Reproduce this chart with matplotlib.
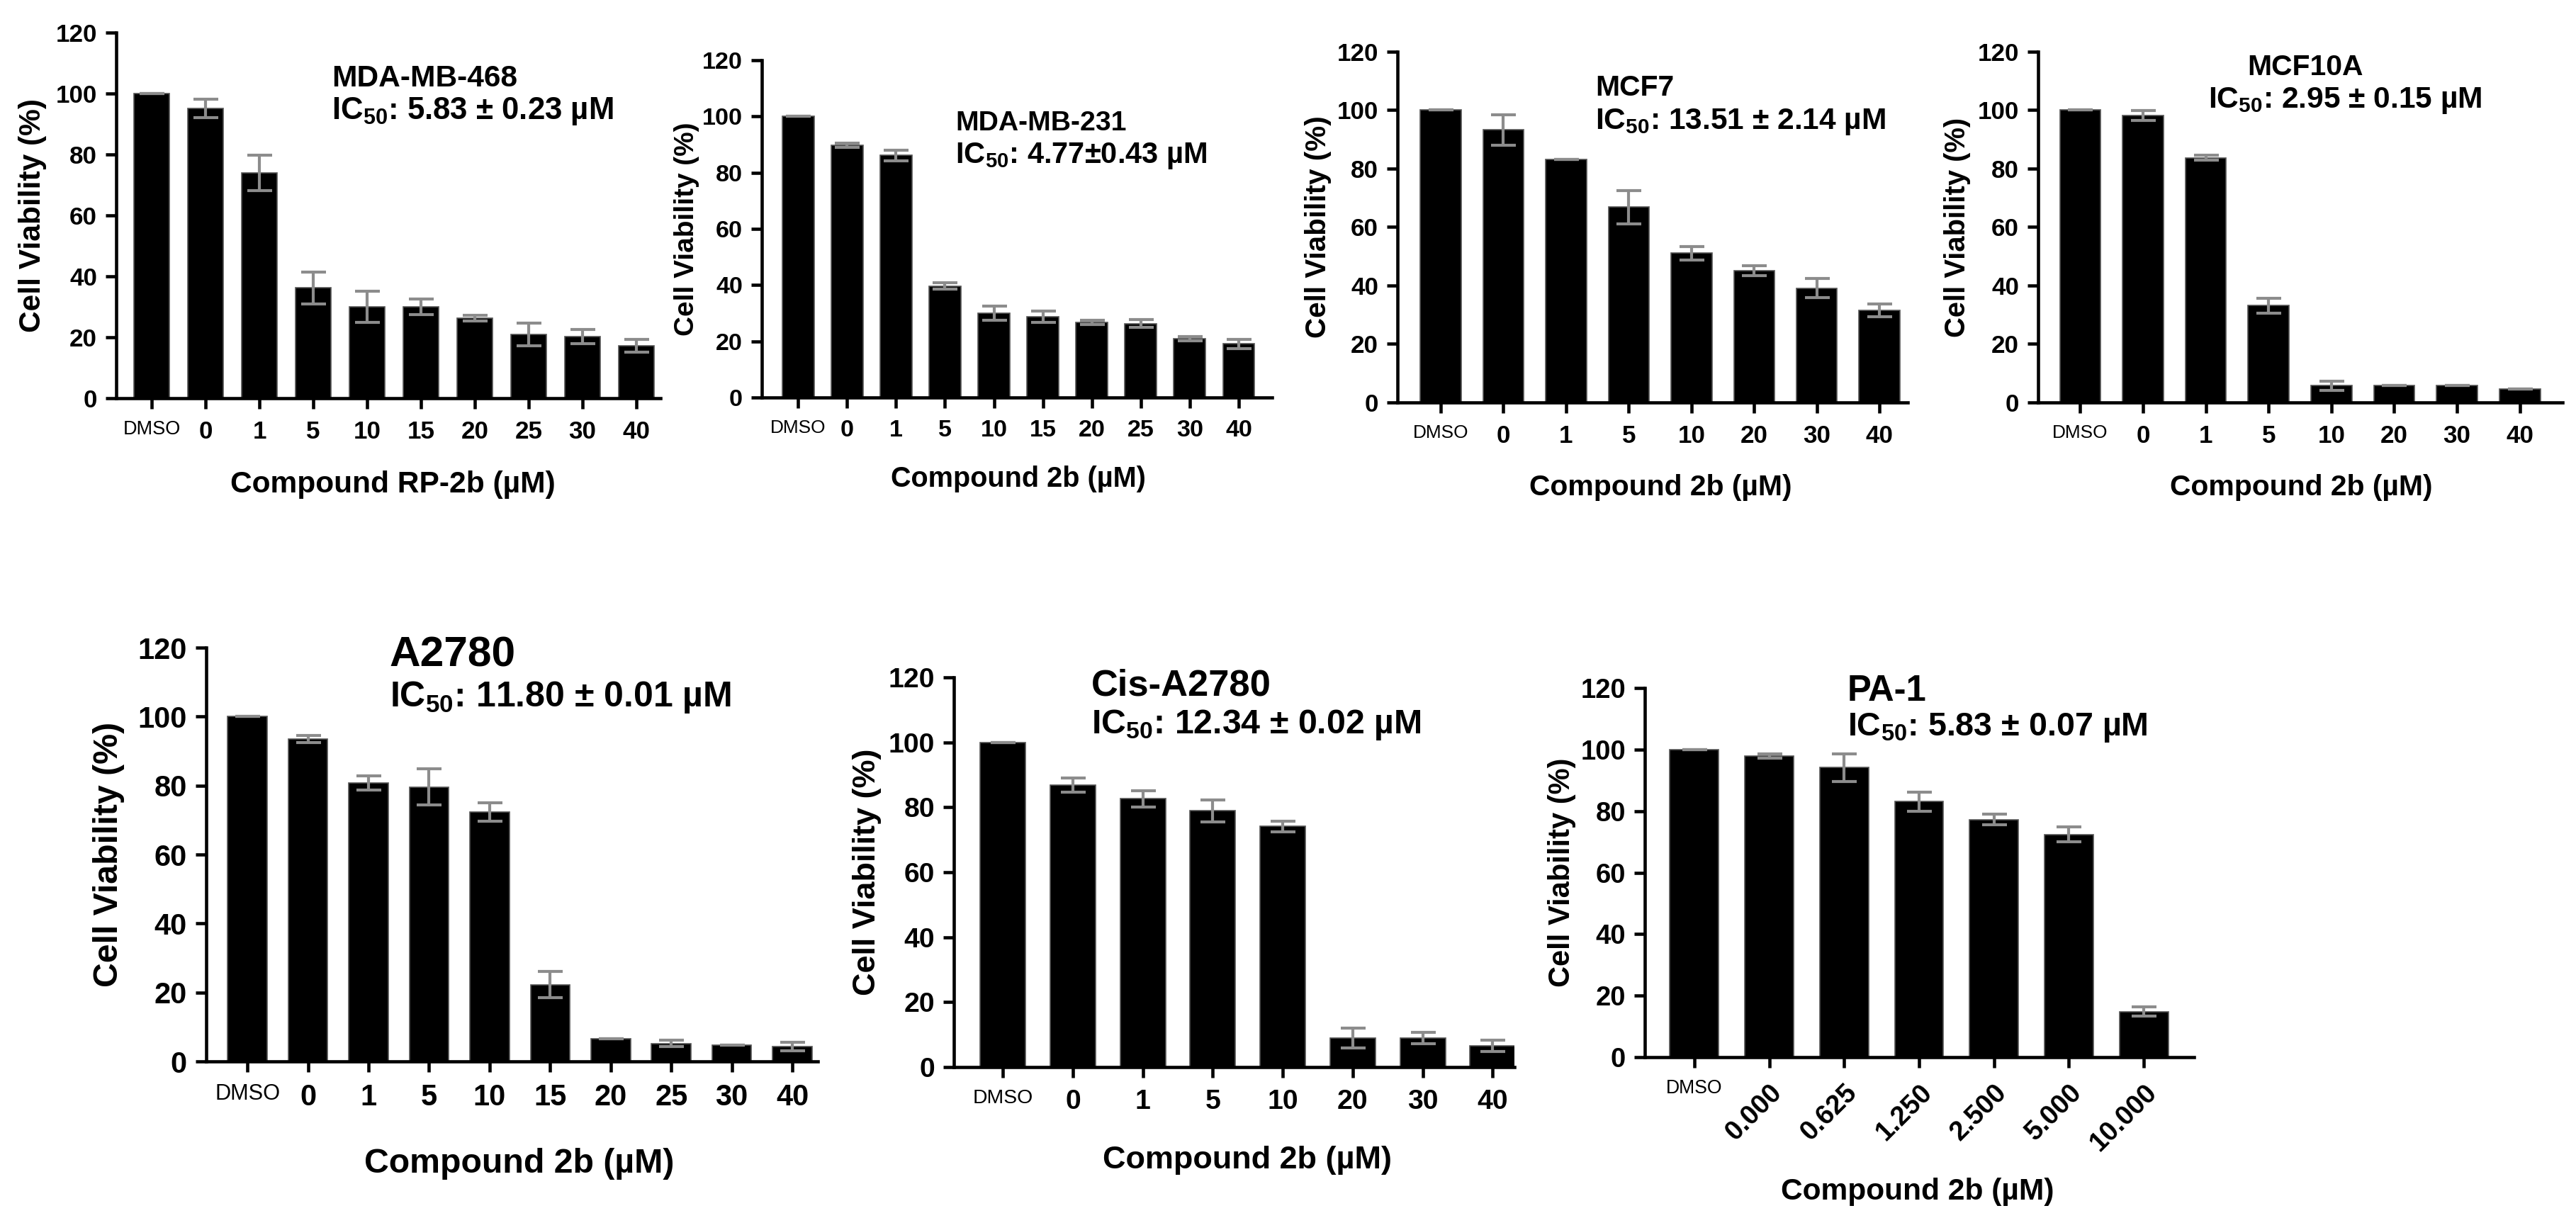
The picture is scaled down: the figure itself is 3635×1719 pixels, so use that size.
import matplotlib
matplotlib.use("Agg")
import matplotlib.pyplot as plt
from matplotlib import font_manager

W, H = 3636, 1719
DPI = 300

names = {f.name for f in font_manager.fontManager.ttflist}
FONT = "Liberation Sans" if "Liberation Sans" in names else "DejaVu Sans"
plt.rcParams["font.family"] = [FONT, "DejaVu Sans"]
plt.rcParams["font.weight"] = "bold"
plt.rcParams["mathtext.default"] = "regular"

# ---- data ----
mda468_doses = ["DMSO", "0", "1", "5", "10", "15", "20", "25", "30", "40"]
mda468_mean = [100, 95.2, 73.9, 36.2, 30.0, 30.0, 26.3, 20.9, 20.2, 17.2]
mda468_err = [0, 3.0, 5.8, 5.3, 5.2, 2.5, 1.0, 3.8, 2.3, 2.1]

mda231_doses = ["DMSO", "0", "1", "5", "10", "15", "20", "25", "30", "40"]
mda231_mean = [100, 89.7, 86.2, 39.7, 30.0, 28.8, 26.8, 26.3, 20.9, 19.1]
mda231_err = [0, 0.7, 1.9, 1.2, 2.6, 2.0, 0.8, 1.4, 0.8, 1.6]

mcf7_doses = ["DMSO", "0", "1", "5", "10", "20", "30", "40"]
mcf7_mean = [100, 93.3, 83.2, 66.8, 51.1, 45.1, 39.1, 31.5]
mcf7_err = [0, 5.2, 0, 5.7, 2.3, 1.6, 3.3, 2.2]

mcf10a_doses = ["DMSO", "0", "1", "5", "10", "20", "30", "40"]
mcf10a_mean = [100, 98.2, 83.7, 33.1, 5.7, 5.7, 5.7, 4.6]
mcf10a_err = [0, 1.6, 0.9, 2.6, 1.5, 0, 0, 0]

a2780_doses = ["DMSO", "0", "1", "5", "10", "15", "20", "25", "30", "40"]
a2780_mean = [100, 93.5, 80.8, 79.6, 72.3, 22.2, 6.5, 5.2, 4.7, 4.3]
a2780_err = [0, 1.0, 2.1, 5.2, 2.6, 3.8, 0, 0.9, 0, 1.3]

cis_doses = ["DMSO", "0", "1", "5", "10", "20", "30", "40"]
cis_mean = [100, 86.8, 82.6, 78.9, 74.1, 9.0, 8.9, 6.5]
cis_err = [0, 2.2, 2.5, 3.4, 1.7, 3.0, 1.8, 1.7]

pa1_doses = ["DMSO", "0.000", "0.625", "1.250", "2.500", "5.000", "10.000"]
pa1_mean = [100, 97.9, 94.1, 83.1, 77.2, 72.4, 14.8]
pa1_err = [0, 0.7, 4.5, 3.1, 1.7, 2.4, 1.5]

titles = ["MDA-MB-468", "MDA-MB-231", "MCF7", "MCF10A", "A2780", "Cis-A2780", "PA-1"]
ic50 = ["5.83 ± 0.23", "4.77±0.43", "13.51 ± 2.14", "2.95 ± 0.15",
        "11.80 ± 0.01", "12.34 ± 0.02", "5.83 ± 0.07"]
xlabels = ["Compound RP-2b (µM)"] + ["Compound 2b (µM)"] * 6
yticks = [0, 20, 40, 60, 80, 100, 120]

# ---- layout in pixels ----
# axes box: left, right, y of 120, y of 0 ; xlim margins (left, right)
layout = [
    dict(box=(164, 932, 46, 562), m=(0.66, 0.45), title=(468, 122, 10.2), ic=(468, 168, 10.5),
         xl=(554, 684, 10.2), yl=(46, 10.2), tick=8.4, dmso=6.5),
    dict(box=(1075, 1795, 85, 561), m=(0.74, 0.68), title=(1348, 184, 9.4), ic=(1348, 230, 10.0),
         xl=(1437, 676, 9.5), yl=(969, 9.3), tick=8.2, dmso=6.3),
    dict(box=(1972, 2692, 73, 568), m=(0.69, 0.45), title=(2251, 135, 9.8), ic=(2251, 182, 10.2),
         xl=(2343, 688, 9.8), yl=(1860, 9.7), tick=8.4, dmso=6.3),
    dict(box=(2876, 3616, 73, 568), m=(0.67, 0.68), title=(3171, 106, 9.8), ic=(3116, 152, 10.2),
         xl=(3247, 688, 9.8), yl=(2762, 9.6), tick=8.4, dmso=6.3),
    dict(box=(291, 1154, 914, 1498), m=(0.68, 0.42), title=(550, 940, 14.5), ic=(550, 997, 12.0),
         xl=(733, 1642, 11.6), yl=(154, 11.6), tick=10.0, dmso=7.4),
    dict(box=(1346, 2137, 956, 1506), m=(0.70, 0.31), title=(1540, 981, 12.6), ic=(1540, 1035, 11.6),
         xl=(1760, 1637, 10.8), yl=(1224, 10.8), tick=9.4, dmso=6.8),
    dict(box=(2321, 3096, 971, 1492), m=(0.66, 0.67), title=(2607, 989, 12.2), ic=(2607, 1038, 11.2),
         xl=(2706, 1682, 10.2), yl=(2204, 10.0), tick=9.2, dmso=6.4),
]

series = [
    (mda468_doses, mda468_mean, mda468_err),
    (mda231_doses, mda231_mean, mda231_err),
    (mcf7_doses, mcf7_mean, mcf7_err),
    (mcf10a_doses, mcf10a_mean, mcf10a_err),
    (a2780_doses, a2780_mean, a2780_err),
    (cis_doses, cis_mean, cis_err),
    (pa1_doses, pa1_mean, pa1_err),
]

fig = plt.figure(figsize=(W / DPI, H / DPI), dpi=DPI)

for i, ((doses, mean, err), lay) in enumerate(zip(series, layout)):
    l, r, t, b = lay["box"]
    ax = fig.add_axes([l / W, 1 - b / H, (r - l) / W, (b - t) / H])
    x = list(range(len(doses)))
    ax.bar(x, mean, width=0.65, color="black", edgecolor="#555555", linewidth=0.4, zorder=2)
    ax.errorbar(x, mean, yerr=err, fmt="none", ecolor="#8c8c8c", elinewidth=1.0,
                capsize=4.2, capthick=1.0, zorder=3)
    ax.set_ylim(0, 120)
    ax.set_xlim(-lay["m"][0], len(doses) - 1 + lay["m"][1])
    ax.set_yticks(yticks)
    ax.set_xticks(x)
    for s in ["top", "right"]:
        ax.spines[s].set_visible(False)
    for s in ["left", "bottom"]:
        ax.spines[s].set_linewidth(1.1)
    ax.tick_params(axis="both", direction="out", length=3.5, width=1.1,
                   labelsize=lay["tick"], pad=3)
    ax.tick_params(axis="x", pad=4)
    ax.set_xticklabels(doses)
    for tl in ax.get_yticklabels():
        tl.set_fontweight("bold")
    for j, tl in enumerate(ax.get_xticklabels()):
        tl.set_fontweight("bold")
        if doses[j] == "DMSO":
            tl.set_fontsize(lay["dmso"])
            tl.set_fontweight("normal")
        elif i == 6:
            tl.set_rotation(45)
            tl.set_ha("right")
            tl.set_va("top")
            tl.set_rotation_mode("anchor")

    # axis labels
    ax.set_xlabel(xlabels[i], fontsize=lay["xl"][2], fontweight="bold")
    ax.xaxis.label.set_va("center")
    ax.xaxis.set_label_coords((lay["xl"][0] - l) / (r - l), (b - lay["xl"][1]) / (b - t))
    ax.set_ylabel("Cell Viability (%)", fontsize=lay["yl"][1], fontweight="bold")
    ax.yaxis.label.set_va("center")
    ax.yaxis.set_label_coords((lay["yl"][0] - l) / (r - l), 0.5)

    # cell line name and IC50
    fig.text(lay["title"][0] / W, 1 - lay["title"][1] / H, titles[i],
             fontsize=lay["title"][2], fontweight="bold", va="baseline", ha="left")
    fig.text(lay["ic"][0] / W, 1 - lay["ic"][1] / H, "IC$_{50}$: " + ic50[i] + " µM",
             fontsize=lay["ic"][2], fontweight="bold", va="baseline", ha="left")

fig.savefig("out.png", dpi=DPI, facecolor="white")
